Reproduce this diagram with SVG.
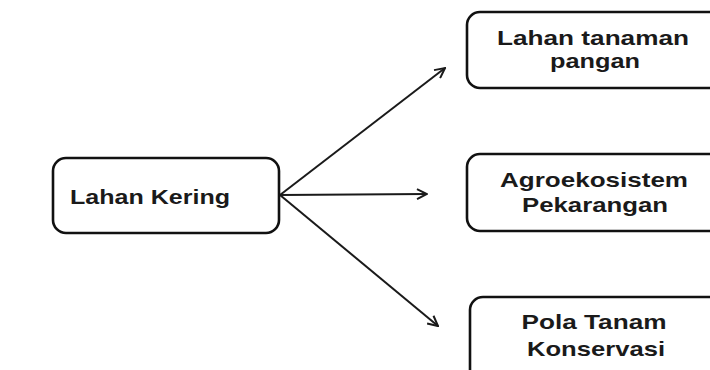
<svg xmlns="http://www.w3.org/2000/svg" width="710" height="370" viewBox="0 0 710 370">
<defs>
<style>
.box{fill:#fff;stroke:#111;stroke-width:2.6}
.t{font-family:"Liberation Sans",Arial,sans-serif;font-weight:bold;font-size:21px;fill:#1a1a1a;text-anchor:middle}
.s{font-size:20.5px}
.c{stroke:#1a1a1a;stroke-width:2;fill:none}
</style>
<marker id="arr" viewBox="0 0 12 12" refX="11" refY="6" markerWidth="12" markerHeight="12" markerUnits="userSpaceOnUse" orient="auto">
<path d="M1,1 L11,6 L1,11" fill="none" stroke="#1a1a1a" stroke-width="2"/>
</marker>
</defs>
<rect width="710" height="370" fill="#fff"/>
<g id="connectors">
<line class="c" x1="280" y1="195" x2="445" y2="68" marker-end="url(#arr)"/>
<line class="c" x1="280" y1="195" x2="427" y2="194" marker-end="url(#arr)"/>
<line class="c" x1="280" y1="195" x2="438" y2="326" marker-end="url(#arr)"/>
</g>
<g id="lahan-kering">
<rect class="box" x="53" y="158" width="226" height="75" rx="13"/>
<text class="t" x="150" y="204" textLength="160" lengthAdjust="spacingAndGlyphs">Lahan Kering</text>
</g>
<g id="lahan-tanaman-pangan">
<rect class="box" x="467" y="12" width="270" height="76" rx="13"/>
<text class="t s" x="593" y="45" textLength="192" lengthAdjust="spacingAndGlyphs">Lahan tanaman</text>
<text class="t s" x="595" y="68" textLength="90" lengthAdjust="spacingAndGlyphs">pangan</text>
</g>
<g id="agroekosistem-pekarangan">
<rect class="box" x="467" y="154" width="270" height="77" rx="13"/>
<text class="t" x="594" y="187" textLength="188" lengthAdjust="spacingAndGlyphs">Agroekosistem</text>
<text class="t" x="595" y="212" textLength="146" lengthAdjust="spacingAndGlyphs">Pekarangan</text>
</g>
<g id="pola-tanam-konservasi">
<rect class="box" x="470" y="297" width="270" height="90" rx="13"/>
<text class="t" x="594" y="329" textLength="145" lengthAdjust="spacingAndGlyphs">Pola Tanam</text>
<text class="t" x="596" y="356" textLength="138" lengthAdjust="spacingAndGlyphs">Konservasi</text>
</g>
</svg>
